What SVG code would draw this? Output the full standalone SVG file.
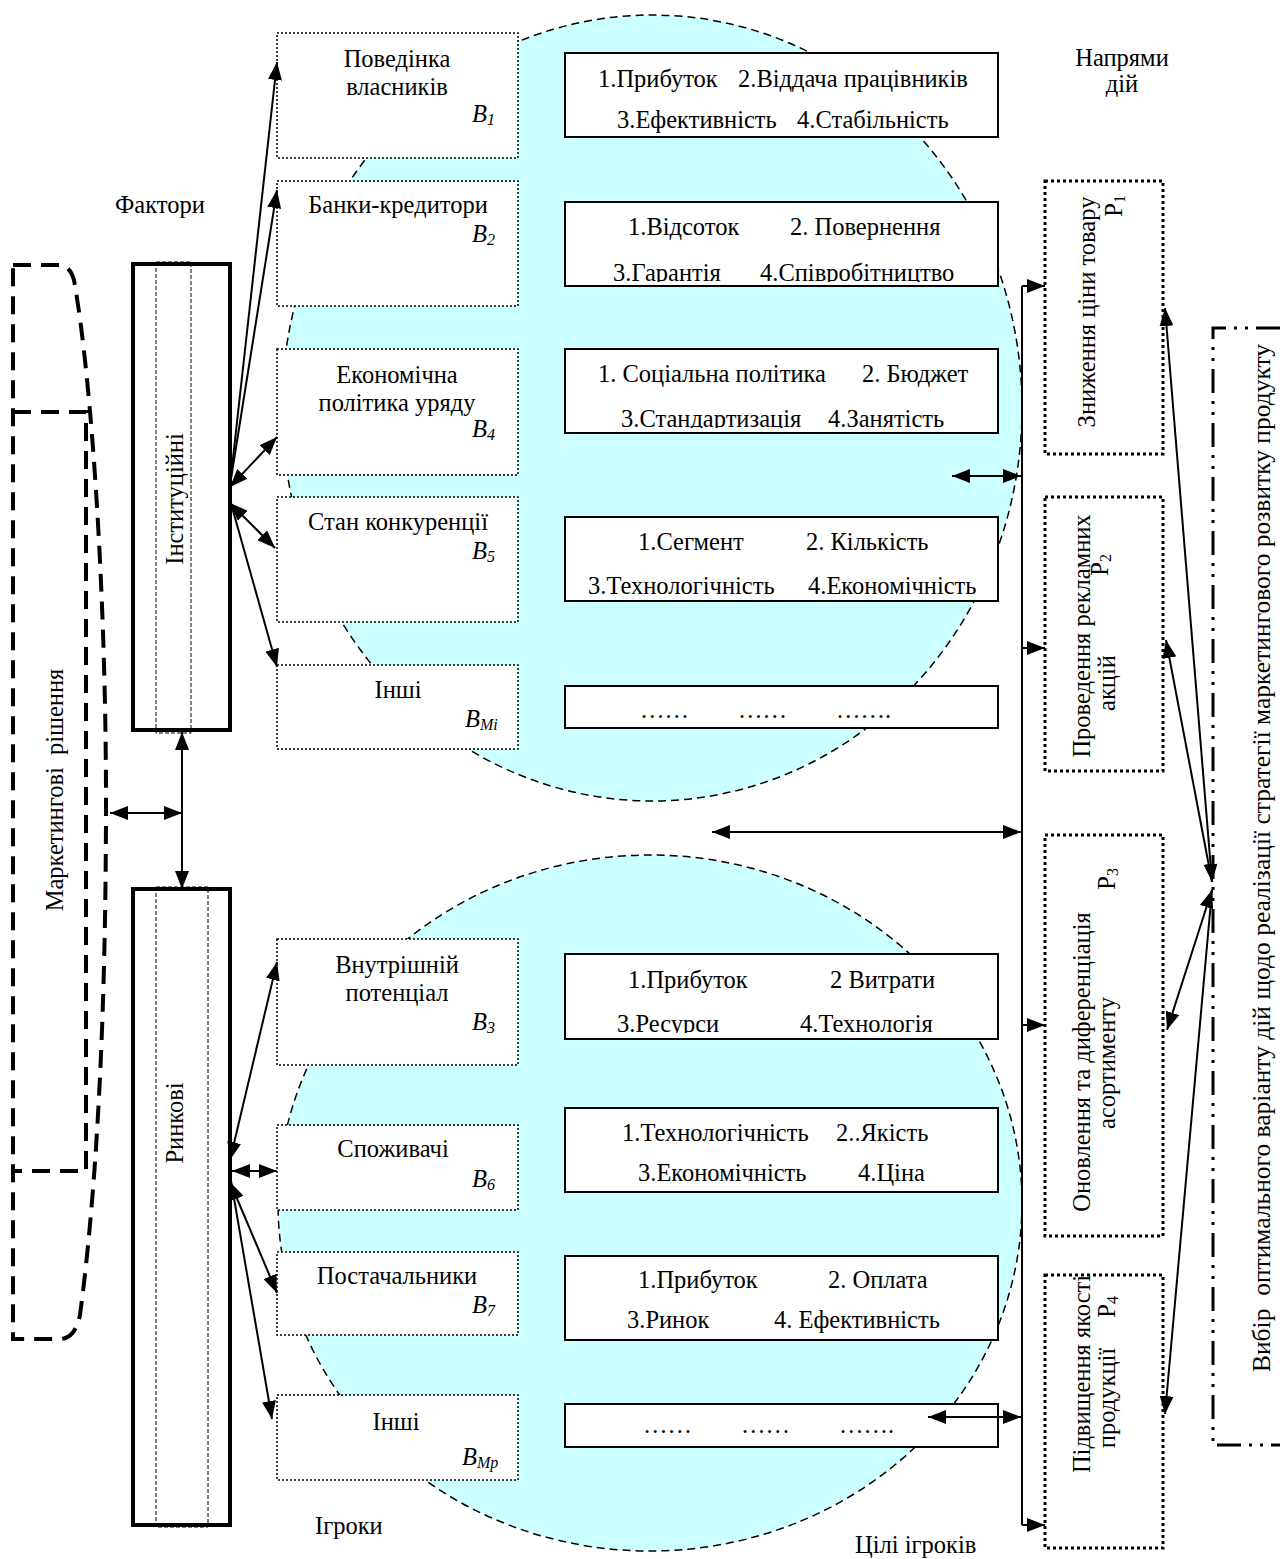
<svg xmlns="http://www.w3.org/2000/svg" width="1280" height="1559" viewBox="0 0 1280 1559">
<style>
text{font-family:"Liberation Serif","Times New Roman",serif;font-size:24.5px;fill:#000;white-space:pre}
.it{font-style:italic}
.sub{font-size:16px}
.long{font-size:25.5px}
.pbox{fill:#fff;stroke:#000;stroke-width:1.5;stroke-dasharray:2 2}
.gbox{fill:#fff;stroke:#000;stroke-width:2}
.dbox{fill:#fff;stroke:#000;stroke-width:3;stroke-dasharray:3 3}
.ell{fill:#CCFFFF;stroke:#000;stroke-width:1.5;stroke-dasharray:8 5}
.ln{stroke:#000;stroke-width:2;fill:none}
.ar{stroke:#000;stroke-width:2;fill:none;marker-end:url(#ah)}
.ar2{stroke:#000;stroke-width:2;fill:none;marker-end:url(#ah);marker-start:url(#ah)}
.big{fill:#fff;stroke:#000;stroke-width:4}
.inner{fill:none;stroke:#000;stroke-width:1;stroke-dasharray:4 2}
.brk{fill:none;stroke:#000;stroke-width:4;stroke-dasharray:18 10}
.dd{fill:none;stroke:#000;stroke-width:3;stroke-dasharray:24 8 3 8 3 8}
</style>
<defs>
<marker id="ah" viewBox="0 0 18 14" refX="18" refY="7" markerWidth="18" markerHeight="14" markerUnits="userSpaceOnUse" orient="auto-start-reverse">
<path d="M0,0 L18,7 L0,14 Z" fill="#000"/>
</marker>
<clipPath id="c2"><rect x="566" y="203" width="431" height="79"/></clipPath>
<clipPath id="c3"><rect x="566" y="350" width="431" height="78"/></clipPath>
<clipPath id="c4"><rect x="566" y="518" width="431" height="77"/></clipPath>
<clipPath id="c6"><rect x="566" y="955" width="431" height="78"/></clipPath>
</defs>

<g id="ellipses">
<ellipse class="ell" cx="652" cy="408" rx="370" ry="393"/>
<ellipse class="ell" cx="650" cy="1203" rx="372" ry="348"/>
</g>

<g id="decision">
<path class="brk" d="M13,265 L60,265 Q70,266 74,280 C92,380 106,600 106,800 C106,1000 98,1180 80,1315 Q75,1339 60,1339 L13,1339 Z"/>
<path class="brk" d="M13,412 L86,412 L86,1171 L13,1171"/>
<text transform="translate(63,790) rotate(-90)" text-anchor="middle">Маркетингові  рішення</text>
</g>

<g id="labels">
<text x="115" y="213">Фактори</text>
<text x="1122" y="66" text-anchor="middle">Напрями</text>
<text x="1122" y="92" text-anchor="middle">дій</text>
<text x="315" y="1534">Ігроки</text>
<text x="855" y="1553">Цілі ігроків</text>
</g>

<g id="institutional">
<rect class="big" x="133" y="264" width="97" height="466"/>
<rect class="inner" x="156" y="262" width="35" height="471"/>
<text transform="translate(183,499) rotate(-90)" text-anchor="middle">Інституційні</text>
</g>

<g id="market">
<rect class="big" x="133" y="889" width="97" height="636"/>
<rect class="inner" x="156" y="887" width="52" height="640"/>
<text transform="translate(183,1123) rotate(-90)" text-anchor="middle">Ринкові</text>
</g>

<g id="B1"><rect class="pbox" x="277" y="33" width="241" height="125"/>
<text x="397" y="67" text-anchor="middle">Поведінка</text><text x="397" y="95" text-anchor="middle">власників</text>
<text x="472" y="122" class="it">B<tspan class="sub" dy="3">1</tspan></text></g>
<g id="B2"><rect class="pbox" x="277" y="181" width="241" height="125"/>
<text x="398" y="213" text-anchor="middle">Банки-кредитори</text>
<text x="472" y="242" class="it">B<tspan class="sub" dy="3">2</tspan></text></g>
<g id="B4"><rect class="pbox" x="277" y="349" width="241" height="126"/>
<text x="397" y="383" text-anchor="middle">Економічна</text><text x="397" y="411" text-anchor="middle">політика уряду</text>
<text x="472" y="437" class="it">B<tspan class="sub" dy="3">4</tspan></text></g>
<g id="B5"><rect class="pbox" x="277" y="497" width="241" height="125"/>
<text x="398" y="530" text-anchor="middle">Стан конкуренції</text>
<text x="472" y="559" class="it">B<tspan class="sub" dy="3">5</tspan></text></g>
<g id="BMi"><rect class="pbox" x="277" y="665" width="241" height="84"/>
<text x="398" y="698" text-anchor="middle">Інші</text>
<text x="465" y="727" class="it">B<tspan class="sub" dy="3">Mi</tspan></text></g>
<g id="B3"><rect class="pbox" x="277" y="939" width="241" height="126"/>
<text x="397" y="973" text-anchor="middle">Внутрішній</text><text x="397" y="1001" text-anchor="middle">потенціал</text>
<text x="472" y="1030" class="it">B<tspan class="sub" dy="3">3</tspan></text></g>
<g id="B6"><rect class="pbox" x="277" y="1125" width="241" height="85"/>
<text x="393" y="1157" text-anchor="middle">Споживачі</text>
<text x="472" y="1187" class="it">B<tspan class="sub" dy="3">6</tspan></text></g>
<g id="B7"><rect class="pbox" x="277" y="1252" width="241" height="83"/>
<text x="397" y="1284" text-anchor="middle">Постачальники</text>
<text x="472" y="1313" class="it">B<tspan class="sub" dy="3">7</tspan></text></g>
<g id="BMp"><rect class="pbox" x="277" y="1395" width="241" height="85"/>
<text x="396" y="1430" text-anchor="middle">Інші</text>
<text x="462" y="1465" class="it">B<tspan class="sub" dy="3">Mp</tspan></text></g>

<g id="G1"><rect class="gbox" x="565" y="53" width="433" height="84"/>
<text x="598" y="87">1.Прибуток</text><text x="738" y="87">2.Віддача працівників</text>
<text x="617" y="128">3.Ефективність</text><text x="797" y="128">4.Стабільність</text></g>
<g id="G2"><rect class="gbox" x="565" y="202" width="433" height="84"/>
<text x="628" y="235">1.Відсоток</text><text x="790" y="235">2. Повернення</text>
<g clip-path="url(#c2)"><text x="613" y="281">3.Гарантія</text><text x="760" y="281">4.Співробітництво</text></g></g>
<g id="G3"><rect class="gbox" x="565" y="349" width="433" height="84"/>
<text x="598" y="382">1. Соціальна політика</text><text x="862" y="382">2. Бюджет</text>
<g clip-path="url(#c3)"><text x="621" y="427">3.Стандартизація</text><text x="828" y="427">4.Занятість</text></g></g>
<g id="G4"><rect class="gbox" x="565" y="517" width="433" height="84"/>
<text x="638" y="550">1.Сегмент</text><text x="806" y="550">2. Кількість</text>
<g clip-path="url(#c4)"><text x="588" y="594">3.Технологічність</text><text x="808" y="594">4.Економічність</text></g></g>
<g id="G5"><rect class="gbox" x="565" y="686" width="433" height="42"/>
<text x="640" y="718">……        ……        …….</text></g>
<g id="G6"><rect class="gbox" x="565" y="954" width="433" height="85"/>
<text x="628" y="988">1.Прибуток</text><text x="830" y="988">2 Витрати</text>
<g clip-path="url(#c6)"><text x="617" y="1032">3.Ресурси</text><text x="800" y="1032">4.Технологія</text></g></g>
<g id="G7"><rect class="gbox" x="565" y="1108" width="433" height="84"/>
<text x="622" y="1141">1.Технологічність</text><text x="836" y="1141">2..Якість</text>
<text x="638" y="1181">3.Економічність</text><text x="858" y="1181">4.Ціна</text></g>
<g id="G8"><rect class="gbox" x="565" y="1256" width="433" height="84"/>
<text x="638" y="1288">1.Прибуток</text><text x="828" y="1288">2. Оплата</text>
<text x="627" y="1328">3.Ринок</text><text x="774" y="1328">4. Ефективність</text></g>
<g id="G9"><rect class="gbox" x="565" y="1404" width="433" height="43"/>
<text x="643" y="1433">……        ……        …….</text></g>

<g id="P1"><rect class="dbox" x="1045" y="181" width="118" height="273"/>
<text transform="translate(1095,312) rotate(-90)" text-anchor="middle">Зниження ціни товару</text>
<text transform="translate(1122,195) rotate(-90)" text-anchor="end">P<tspan class="sub" dy="3">1</tspan></text></g>
<g id="P2"><rect class="dbox" x="1045" y="497" width="118" height="274"/>
<text transform="translate(1090,636) rotate(-90)" text-anchor="middle">Проведення рекламних</text>
<text transform="translate(1115,683) rotate(-90)" text-anchor="middle">акцій</text>
<text transform="translate(1108,554) rotate(-90)" text-anchor="end">P<tspan class="sub" dy="3">2</tspan></text></g>
<g id="P3"><rect class="dbox" x="1045" y="835" width="118" height="401"/>
<text transform="translate(1090,1062) rotate(-90)" text-anchor="middle">Оновлення та диференціація</text>
<text transform="translate(1115,1063) rotate(-90)" text-anchor="middle">асортименту</text>
<text transform="translate(1115,868) rotate(-90)" text-anchor="end">P<tspan class="sub" dy="3">3</tspan></text></g>
<g id="P4"><rect class="dbox" x="1045" y="1275" width="118" height="273"/>
<text transform="translate(1090,1374) rotate(-90)" text-anchor="middle">Підвищення якості</text>
<text transform="translate(1115,1398) rotate(-90)" text-anchor="middle">продукції</text>
<text transform="translate(1115,1296) rotate(-90)" text-anchor="end">P<tspan class="sub" dy="3">4</tspan></text></g>

<g id="choice">
<path class="dd" d="M1280,328 L1213,328 L1213,1445 L1280,1445"/>
<text class="long" transform="translate(1270,858) rotate(-90)" text-anchor="middle">Вибір  оптимального варіанту дій щодо реалізації стратегії маркетингового розвитку продукту</text>
</g>

<g id="connectors">
<line class="ar2" x1="110" y1="813" x2="182" y2="813"/>
<line class="ar2" x1="182" y1="732" x2="182" y2="889"/>
<line class="ar" x1="230" y1="485" x2="277" y2="62"/>
<line class="ar" x1="230" y1="485" x2="277" y2="190"/>
<line class="ar2" x1="230" y1="487" x2="277" y2="437"/>
<line class="ar2" x1="230" y1="503" x2="275" y2="548"/>
<line class="ar" x1="230" y1="500" x2="277" y2="667"/>
<line class="ar2" x1="230" y1="1160" x2="277" y2="962"/>
<line class="ar2" x1="232" y1="1171" x2="277" y2="1171"/>
<line class="ar2" x1="230" y1="1182" x2="277" y2="1293"/>
<line class="ar" x1="230" y1="1175" x2="272" y2="1419"/>
<line class="ln" x1="1022" y1="286" x2="1022" y2="1525"/>
<line class="ar" x1="1022" y1="286" x2="1045" y2="286"/>
<line class="ar" x1="1022" y1="648" x2="1045" y2="648"/>
<line class="ar" x1="1022" y1="1025" x2="1045" y2="1025"/>
<line class="ar" x1="1022" y1="1525" x2="1045" y2="1525"/>
<line class="ar2" x1="952" y1="476" x2="1021" y2="476"/>
<line class="ar2" x1="712" y1="832" x2="1021" y2="832"/>
<line class="ar2" x1="928" y1="1417" x2="1021" y2="1417"/>
<line class="ar2" x1="1212" y1="882" x2="1165" y2="308"/>
<line class="ar" x1="1212" y1="882" x2="1166" y2="640"/>
<line class="ar2" x1="1212" y1="890" x2="1167" y2="1030"/>
<line class="ar" x1="1212" y1="890" x2="1165" y2="1414"/>
</g>
</svg>
